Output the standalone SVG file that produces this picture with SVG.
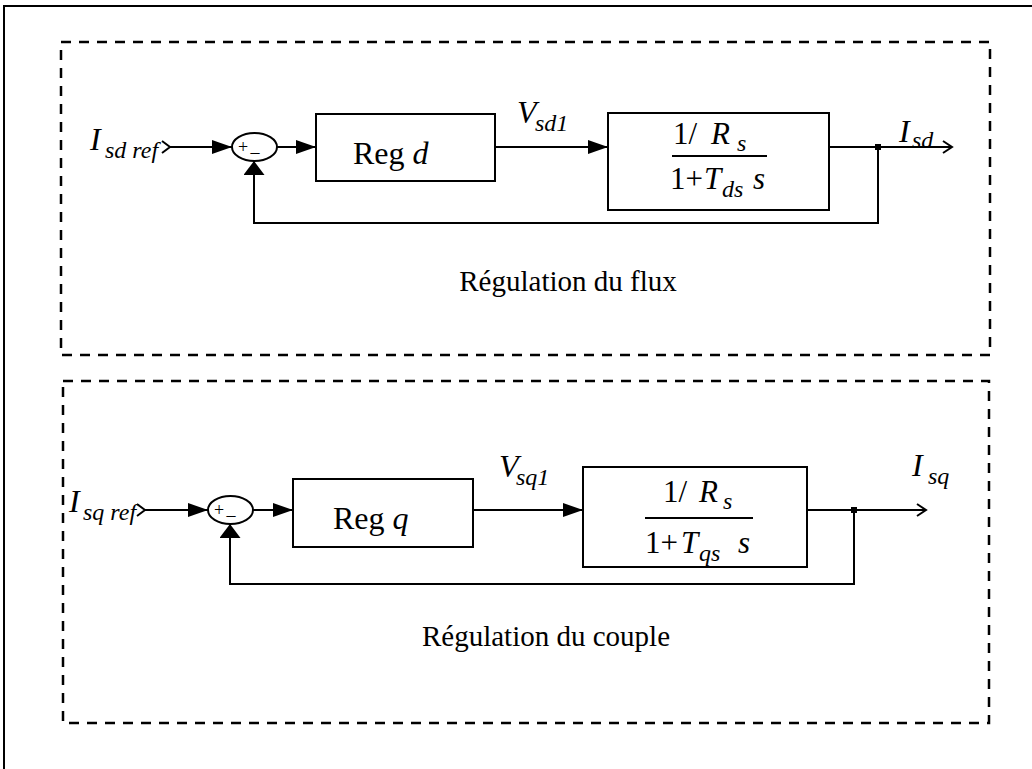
<svg xmlns="http://www.w3.org/2000/svg" width="1032" height="769" viewBox="0 0 1032 769">
<style>
.ln{fill:none;stroke:#000;stroke-width:2}
.box{fill:#fff;stroke:#000;stroke-width:2}
.dash{fill:none;stroke:#000;stroke-width:2.5;stroke-dasharray:10 8}
.t{font-family:"Liberation Serif","Times New Roman",serif;fill:#000}
.it{font-style:italic}
.big{font-size:32px}
.sub{font-size:24px}
.mid{font-size:31px}
.cap{font-size:29px}
.sm{font-size:18px}
</style>
<defs>
<marker id="ah" markerUnits="userSpaceOnUse" markerWidth="20" markerHeight="14" refX="20" refY="7" orient="auto"><path d="M0,0 L20,7 L0,14 z" fill="#000"/></marker>
<marker id="au" markerUnits="userSpaceOnUse" markerWidth="14" markerHeight="21" refX="14" refY="10.5" orient="auto"><path d="M0,0 L14,10.5 L0,21 z" fill="#000"/></marker>
<marker id="ao" markerUnits="userSpaceOnUse" markerWidth="12" markerHeight="14" refX="10" refY="7" orient="auto"><path d="M1,1 L10,7 L1,13" fill="none" stroke="#000" stroke-width="2"/></marker>
</defs>
<rect width="1032" height="769" fill="#fff"/>
<path class="ln" d="M4,769 L4,6 L1032,6"/>
<rect id="zone-flux" class="dash" x="61" y="42" width="929" height="313"/>
<rect id="zone-couple" class="dash" x="63" y="381" width="926" height="342"/>

<g id="connectors">
<path class="ln" d="M162,141 L170,147 L162,153"/>
<path class="ln" d="M170,147 L232,147" marker-end="url(#ah)"/>
<path class="ln" d="M277,147 L316,147" marker-end="url(#ah)"/>
<path class="ln" d="M493,147 L608,147" marker-end="url(#ah)"/>
<path class="ln" d="M825,147 L952,147" marker-end="url(#ao)"/>
<path class="ln" d="M878,147 L878,223 L254,223 L254,161" marker-end="url(#au)"/>
<rect x="875" y="144" width="6" height="6" fill="#000"/>

<path class="ln" d="M137,504 L145,510 L137,516"/>
<path class="ln" d="M145,510 L208,510" marker-end="url(#ah)"/>
<path class="ln" d="M253,510 L293,510" marker-end="url(#ah)"/>
<path class="ln" d="M471,510 L583,510" marker-end="url(#ah)"/>
<path class="ln" d="M801,510 L926,510" marker-end="url(#ao)"/>
<path class="ln" d="M854,510 L854,584 L230,584 L230,524" marker-end="url(#au)"/>
<rect x="851" y="507" width="6" height="6" fill="#000"/>
</g>

<g id="label-isdref">
<text class="t it big" x="90" y="150">I</text>
<text class="t it sub" x="105" y="158">sd ref</text>
</g>
<g id="sum-d">
<ellipse class="box" cx="254.5" cy="147" rx="22.5" ry="14"/>
<text class="t sm" x="243" y="153" text-anchor="middle">+</text>
<text class="t" style="font-size:18px" x="255" y="158" text-anchor="middle">–</text>
</g>
<g id="reg-d">
<rect class="box" x="316" y="114" width="179" height="67"/>
<text class="t" style="font-size:32px" x="353" y="164">Reg <tspan class="it">d</tspan></text>
</g>
<g id="label-vsd1">
<text class="t it big" x="517" y="123">V</text>
<text class="t it sub" x="535" y="131">sd1</text>
</g>
<g id="plant-d">
<rect class="box" x="608" y="113" width="221" height="97"/>
<text class="t mid" x="673" y="144">1/</text>
<text class="t mid it" x="711" y="144">R</text>
<text class="t sub it" x="737" y="151">s</text>
<line class="ln" x1="672" y1="156" x2="767" y2="156"/>
<text class="t mid" x="670" y="189">1+</text>
<text class="t mid it" x="704" y="189">T</text>
<text class="t sub it" x="722" y="197">ds</text>
<text class="t mid it" x="753" y="189">s</text>
</g>
<g id="label-isd">
<text class="t it big" x="899" y="142">I</text>
<text class="t it sub" x="912" y="148">sd</text>
</g>
<text id="title-flux" class="t cap" x="568" y="291" text-anchor="middle">Régulation du flux</text>

<g id="label-isqref">
<text class="t it big" x="69" y="512">I</text>
<text class="t it sub" x="83" y="520">sq ref</text>
</g>
<g id="sum-q">
<ellipse class="box" cx="230.5" cy="510" rx="22.5" ry="14"/>
<text class="t sm" x="219" y="516" text-anchor="middle">+</text>
<text class="t" style="font-size:18px" x="231" y="521" text-anchor="middle">–</text>
</g>
<g id="reg-q">
<rect class="box" x="293" y="479" width="180" height="68"/>
<text class="t" style="font-size:32px" x="333" y="529">Reg <tspan class="it">q</tspan></text>
</g>
<g id="label-vsq1">
<text class="t it big" x="499" y="477">V</text>
<text class="t it sub" x="516" y="485">sq1</text>
</g>
<g id="plant-q">
<rect class="box" x="583" y="467" width="224" height="100"/>
<text class="t mid" x="663" y="502">1/</text>
<text class="t mid it" x="699" y="502">R</text>
<text class="t sub it" x="723" y="509">s</text>
<line class="ln" x1="645" y1="518" x2="753" y2="518"/>
<text class="t mid" x="645" y="553">1+</text>
<text class="t mid it" x="681" y="553">T</text>
<text class="t sub it" x="699" y="561">qs</text>
<text class="t mid it" x="738" y="553">s</text>
</g>
<g id="label-isq">
<text class="t it big" x="912" y="476">I</text>
<text class="t it sub" x="928" y="484">sq</text>
</g>
<text id="title-couple" class="t cap" x="546" y="646" text-anchor="middle">Régulation du couple</text>
</svg>
